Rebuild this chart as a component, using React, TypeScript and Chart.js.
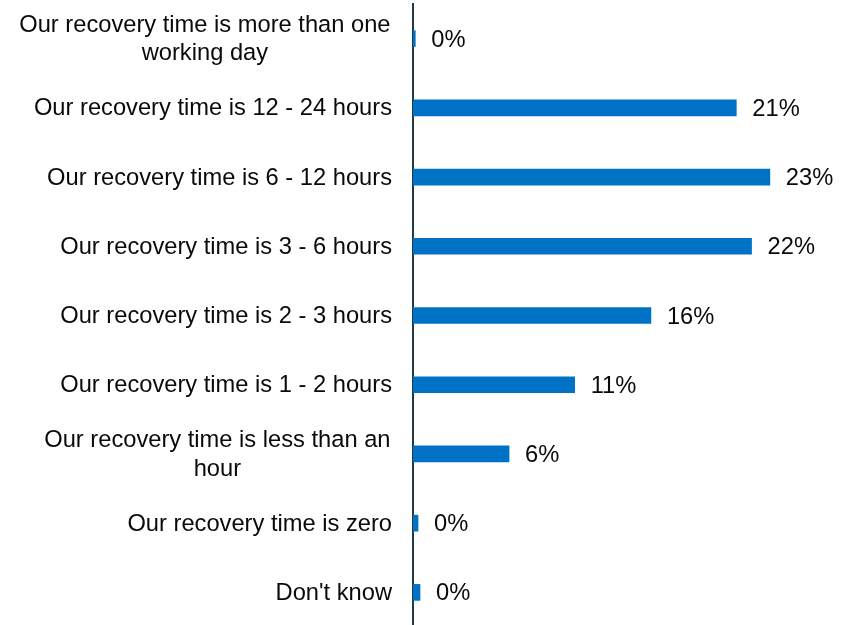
import React, { useEffect, useRef } from "react";
import { Chart, registerables } from "chart.js";

Chart.register(...registerables);

const categories: (string | string[])[] = [
  ["Our recovery time is more than one", "working day"],
  "Our recovery time is 12 - 24 hours",
  "Our recovery time is 6 - 12 hours",
  "Our recovery time is 3 - 6 hours",
  "Our recovery time is 2 - 3 hours",
  "Our recovery time is 1 - 2 hours",
  ["Our recovery time is less than an", "hour"],
  "Our recovery time is zero",
  "Don't know",
];

const values: number[] = [0.15, 21.2, 23.4, 22.2, 15.6, 10.6, 6.3, 0.33, 0.46];

const valueLabels: string[] = ["0%", "21%", "23%", "22%", "16%", "11%", "6%", "0%", "0%"];

const FONT = "23.7px 'Liberation Sans', Arial, sans-serif";

const labelsPlugin = {
  id: "customLabels",
  afterDraw(chart: any) {
    const ctx = chart.ctx;
    const yScale = chart.scales.y;
    const area = chart.chartArea;
    const meta = chart.getDatasetMeta(0);
    ctx.save();
    ctx.font = FONT;
    ctx.fillStyle = "#0a0a0a";
    ctx.textBaseline = "middle";
    const lineHeight = 28.4;
    const rightEdge = area.left - 21;
    categories.forEach((cat, i) => {
      const lines = Array.isArray(cat) ? cat : [cat];
      const y = yScale.getPixelForValue(i);
      let widest = 0;
      lines.forEach((l) => {
        widest = Math.max(widest, ctx.measureText(l).width);
      });
      const right = lines.length > 1 ? rightEdge - 1.5 : rightEdge;
      const cx = right - widest / 2;
      ctx.textAlign = "center";
      lines.forEach((l, j) => {
        ctx.fillText(l, cx, y + 1 + (j - (lines.length - 1) / 2) * lineHeight);
      });
    });
    ctx.textAlign = "left";
    meta.data.forEach((bar: any, i: number) => {
      ctx.fillText(valueLabels[i], bar.x + 16, bar.y + 1.5);
    });
    ctx.restore();
  },
};

export default function App() {
  const canvasRef = useRef<HTMLCanvasElement | null>(null);

  useEffect(() => {
    if (!canvasRef.current) return;
    const chart = new Chart(canvasRef.current, {
      type: "bar",
      data: {
        labels: categories as any,
        datasets: [
          {
            data: values,
            backgroundColor: "#0072C6",
            borderWidth: 0,
            barThickness: 16,
          },
        ],
      },
      options: {
        indexAxis: "y",
        responsive: false,
        animation: false,
        maintainAspectRatio: false,
        layout: { padding: { left: 413, right: 10, top: 4, bottom: 1 } },
        plugins: {
          legend: { display: false },
          tooltip: { enabled: false },
          title: { display: false },
        },
        scales: {
          x: {
            display: false,
            min: 0,
            max: 28,
          },
          y: {
            display: true,
            z: 1,
            grid: { display: false, drawTicks: false },
            border: { display: true, color: "#213A44", width: 2 },
            ticks: { display: false },
            afterFit: (scale: any) => {
              scale.width = 0;
            },
          },
        },
      },
      plugins: [labelsPlugin],
    });
    return () => chart.destroy();
  }, []);

  return (
    <div
      style={{
        position: "fixed",
        left: 0,
        top: 0,
        width: 850,
        height: 625,
        overflow: "hidden",
        background: "#ffffff",
      }}
    >
      <canvas ref={canvasRef} width={850} height={628} style={{ display: "block" }} />
    </div>
  );
}
